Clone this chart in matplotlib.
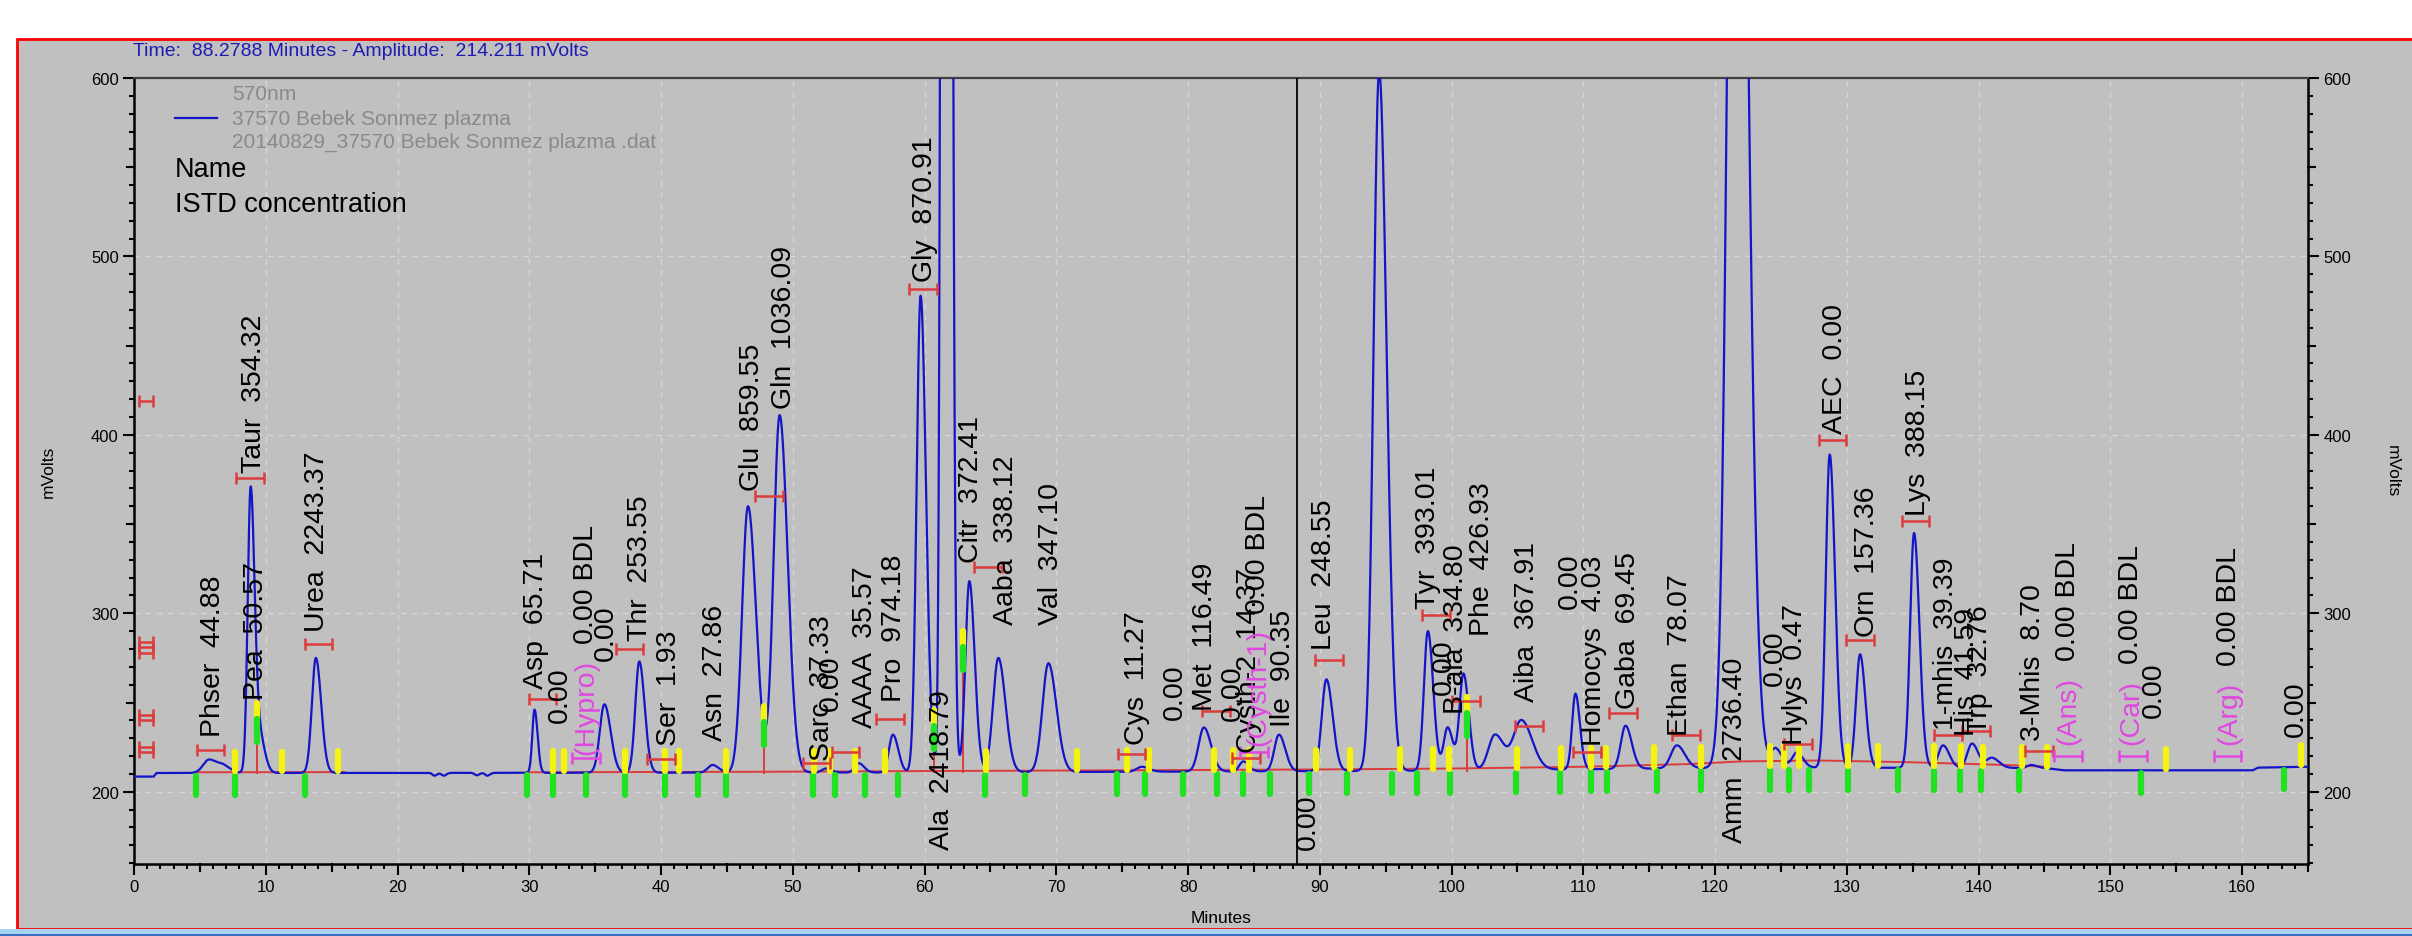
import numpy as np
import matplotlib.pyplot as plt
from matplotlib.patches import Rectangle
from matplotlib.ticker import MultipleLocator

plt.rcParams['font.family'] = ['Liberation Sans', 'DejaVu Sans']

# ---- chromatogram data (time in minutes, signal in mV) ----
base_t = [0.0, 1.5, 1.7, 30.0, 60.0, 100.0, 115.0, 125.0, 145.0, 146.5, 160.8, 161.2, 165.0]
base_v = [208.5, 208.5, 210.5, 210.6, 210.8, 211.8, 213.0, 213.5, 213.3, 212.0, 212.0, 213.5, 214.0]

peak_t = [5.7, 6.8, 8.85, 9.5, 13.8, 22.8, 23.5, 26.0, 26.8, 30.4, 35.7, 38.35, 43.9,
          46.6, 49.0, 52.5, 55.0, 57.6, 59.7, 61.6, 63.4, 65.6, 69.4, 76.5, 81.2,
          84.2, 86.9, 90.5, 94.5, 98.2, 99.7, 100.9, 103.3, 105.3, 109.4, 113.2,
          117.1, 121.6, 124.6, 126.2, 128.7, 131.0, 135.1, 137.3, 139.5, 141.0, 144.0]
peak_top = [218, 214, 369, 232, 275, 209.0, 209.0, 209.2, 209.0, 246, 249, 273, 215,
            360, 411, 213, 216, 232, 478, 3000, 318, 275, 272, 214, 236,
            217, 232, 263, 604, 290, 236, 266, 232, 240, 255, 237,
            226, 1026, 224, 222, 389, 277, 345, 226, 227, 219, 215]
peak_w = [0.45, 0.4, 0.22, 0.3, 0.3, 0.15, 0.15, 0.15, 0.15, 0.17, 0.35, 0.3, 0.35,
          0.45, 0.45, 0.3, 0.3, 0.3, 0.3, 0.22, 0.3, 0.4, 0.45, 0.4, 0.4,
          0.3, 0.35, 0.35, 0.42, 0.3, 0.3, 0.3, 0.5, 0.6, 0.25, 0.35,
          0.45, 0.58, 0.35, 0.35, 0.3, 0.3, 0.3, 0.35, 0.35, 0.4, 0.3]

# integration baseline segments and drop lines
redbase_t = [[4.7, 16.0], [29.8, 48.0, 60.0, 75.0, 90.0, 100.0, 110.0, 118.0, 122.0, 128.0, 135.0, 142.0, 145.2]]
redbase_v = [[210.9, 211.0], [210.9, 211.2, 211.6, 212.0, 212.5, 213.0, 214.0, 215.5, 217.0, 217.5, 216.5, 215.0, 214.0]]
valley_t = [9.3, 47.8, 60.7, 62.9, 101.2]
valley_v = [250, 248, 246, 290, 253]

# peak start (green) / end (yellow) flags at baseline level
green_t = [4.7, 7.7, 13.0, 29.8, 31.8, 34.3, 37.3, 40.3, 42.8, 44.9, 51.5, 53.2, 55.5, 58.0,
           64.6, 67.6, 74.6, 76.7, 79.6, 82.2, 84.2, 86.2, 89.2, 92.1, 95.5, 97.4, 99.9,
           104.9, 108.2, 110.6, 111.8, 115.6, 118.9, 124.2, 125.6, 127.1, 130.1, 133.9,
           136.6, 138.6, 140.2, 143.1, 152.3, 163.2]
yellow_t = [7.7, 11.2, 15.5, 31.8, 32.6, 37.3, 40.3, 41.4, 44.9, 51.6, 52.8, 54.7, 57.0,
            64.7, 71.6, 75.4, 77.0, 82.0, 83.4, 84.6, 89.7, 92.3, 96.1, 98.6, 99.8, 105.0,
            108.3, 110.6, 111.7, 115.4, 118.9, 124.2, 125.2, 126.4, 130.1, 132.4, 136.6,
            138.7, 140.3, 143.3, 145.2, 154.2, 164.5]

# expected retention windows
win_t = [0.9, 0.9, 0.9, 0.9, 0.9, 0.9, 0.9, 0.9, 5.8, 8.8, 14.0, 31.0, 34.3, 37.6, 40.0,
         48.2, 51.8, 54.0, 57.4, 59.9, 64.8, 75.7, 82.1, 84.4, 85.0, 90.7, 98.8, 101.1,
         105.9, 110.3, 113.0, 117.8, 126.3, 128.9, 131.0, 135.2, 137.7, 139.8, 144.6,
         146.8, 151.7, 158.9]
win_v = [419, 284, 281, 278, 243, 240, 225, 222, 223.5, 376, 283, 252, 219, 280, 218.5,
         366, 216, 222, 241, 482, 326, 221, 245, 219, 222, 274, 299, 251,
         237, 222, 244, 232, 227, 397, 285, 352, 232, 234, 223,
         220, 220, 220]
win_unknown = [False] * 12 + [True] + [False] * 11 + [True] + [False] * 14 + [True, True, True]
win_half = [0.55] * 8 + [1.05] * 34

# peak names and concentrations
lab_t = [6.0, 9.25, 9.1, 13.9, 30.5, 32.3, 34.3, 35.8, 38.4, 40.6, 44.1, 46.9, 49.3,
         52.2, 52.9, 55.5, 57.7, 60.0, 61.3, 63.5, 66.2, 69.6, 76.1, 79.0, 81.3, 83.4,
         84.6, 85.3, 87.2, 89.1, 90.3, 98.2, 99.4, 100.3, 102.3, 105.7, 109.0, 110.8,
         113.4, 117.3, 121.5, 124.5, 126.1, 129.1, 131.5, 135.4, 137.5, 139.1, 140.1,
         144.1, 146.8, 151.6, 153.3, 159.0, 164.1]
lab_v = [231, 252, 379, 290, 258, 239, 221, 274, 285, 226, 229, 369, 415,
         218, 246, 236, 251, 486, 168, 329, 294, 294, 227, 241, 246, 240,
         222, 226, 237, 168, 280, 303, 255, 244, 288, 251, 303, 226,
         247, 232, 172, 260, 227, 401, 287, 355, 235, 232, 233,
         229, 227, 227, 242, 227, 231]
lab_tag = [''] * 6 + ['(Hypro)'] + [''] * 20 + ['(Cysth-1)'] + [''] * 22 + ['(Ans)', '(Car)', '', '(Arg)', '']
lab_text = ['Phser  44.88', 'Pea  50.57', 'Taur  354.32', 'Urea  2243.37', 'Asp  65.71',
            '0.00', '0.00 BDL', '0.00', 'Thr  253.55', 'Ser  1.93', 'Asn  27.86',
            'Glu  859.55', 'Gln  1036.09', 'Sarc  37.33', '0.00', 'AAAA  35.57',
            'Pro  974.18', 'Gly  870.91', 'Ala  2418.79', 'Citr  372.41', 'Aaba  338.12',
            'Val  347.10', 'Cys  11.27', '0.00', 'Met  116.49', '0.00', 'Cysth-2  14.37',
            '0.00 BDL', 'Ile  90.35', '0.00', 'Leu  248.55', 'Tyr  393.01', '0.00',
            'B-ala  334.80', 'Phe  426.93', 'Aiba  367.91', '0.00', 'Homocys  4.03',
            'Gaba  69.45', 'Ethan  78.07', 'Amm  2736.40', '0.00', 'Hylys  0.47',
            'AEC  0.00', 'Orn  157.36', 'Lys  388.15', '1-mhis  39.39', 'His  41.59',
            'Trp  32.76', '3-Mhis  8.70', '0.00 BDL', '0.00 BDL', '0.00', '0.00 BDL', '0.00']

CURSOR_T = 88.2788
GRAY = '#c0c0c0'
TRACE = '#1414c8'
RED = '#dc3c3c'
MAGENTA = '#e048e0'
W, H, DPI = 2412, 937, 100

fig = plt.figure(figsize=(W / DPI, H / DPI), dpi=DPI, facecolor='white')

# window frame
fig.patches.append(Rectangle((17 / W, 7 / H), 1.0, (930 - 40) / H, transform=fig.transFigure,
                             facecolor=GRAY, edgecolor='#ff0000', lw=2, zorder=0))
fig.patches.append(Rectangle((0, 0), 1, 7 / H, transform=fig.transFigure,
                             facecolor='#a8d4f4', edgecolor='none', zorder=1))
fig.patches.append(Rectangle((0, 0), 1, 2 / H, transform=fig.transFigure,
                             facecolor='#3a6fc0', edgecolor='none', zorder=1))

ax = fig.add_axes([134 / W, 72 / H, 2174 / W, 786 / H])
ax.set_zorder(3)
ax.set_facecolor(GRAY)
ax.set_xlim(0, 165)
ax.set_ylim(159.5, 600)

# trace
t = np.linspace(0, 165, 12000)
signal = np.interp(t, base_t, base_v)
for pt, top, w in zip(peak_t, peak_top, peak_w):
    h = top - np.interp(pt, base_t, base_v)
    s = np.where(t < pt, w, w * 1.35)
    signal = signal + h * np.exp(-0.5 * ((t - pt) / s) ** 2)
ax.plot(t, signal, color=TRACE, lw=1.6, zorder=4)

# integration baseline and drop lines
for bt, bv in zip(redbase_t, redbase_v):
    ax.plot(bt, bv, color=RED, lw=1.4, zorder=3)
for vt, vv in zip(valley_t, valley_v):
    ax.plot([vt, vt], [np.interp(vt, base_t, base_v), vv], color=RED, lw=1.4, zorder=3)

# start/end flags
for gt in green_t:
    b = np.interp(gt, base_t, base_v)
    ax.plot([gt, gt], [b - 12.5, b - 1.5], color='#22e022', lw=4.5, solid_capstyle='round', zorder=5)
for yt in yellow_t:
    b = np.interp(yt, base_t, base_v)
    ax.plot([yt, yt], [b + 1, b + 12], color='#f4f410', lw=4.5, solid_capstyle='round', zorder=5)
for vt, vv in zip(valley_t, valley_v):
    ax.plot([vt, vt], [vv - 9, vv], color='#f4f410', lw=4.5, solid_capstyle='round', zorder=5)
    ax.plot([vt, vt], [vv - 22, vv - 9], color='#22e022', lw=4.5, solid_capstyle='round', zorder=5)

# retention windows
for wt, wv, unk, hw in zip(win_t, win_v, win_unknown, win_half):
    ax.errorbar([wt], [wv], xerr=[hw], fmt='none', ecolor=MAGENTA if unk else RED,
                elinewidth=1.8, capsize=4.5, capthick=1.8, zorder=6)

# cursor
ax.axvline(CURSOR_T, color='black', lw=1.3, zorder=7)

# peak labels
renderer = fig.canvas.get_renderer()
LABEL_SIZE = 20.5
for lt, lv, tag, txt in zip(lab_t, lab_v, lab_tag, lab_text):
    if tag:
        a = ax.text(lt, lv, tag, rotation=90, ha='center', va='bottom', color=MAGENTA,
                    fontsize=LABEL_SIZE, zorder=8)
        hpx = a.get_window_extent(renderer=renderer).height
        ax.annotate(txt, xy=(lt, lv), xytext=(0, hpx * 72 / DPI + LABEL_SIZE * 0.55),
                    textcoords='offset points', rotation=90, ha='center', va='bottom',
                    color='black', fontsize=LABEL_SIZE, zorder=8)
    else:
        ax.text(lt, lv, txt, rotation=90, ha='center', va='bottom', color='black',
                fontsize=LABEL_SIZE, zorder=8)

# axes styling
ax.xaxis.set_major_locator(MultipleLocator(10))
ax.xaxis.set_minor_locator(MultipleLocator(1))
ax.yaxis.set_major_locator(MultipleLocator(100))
ax.yaxis.set_minor_locator(MultipleLocator(10))
ax.grid(True, which='major', color='#d6d6d6', lw=1.0, ls=(0, (4, 4)), zorder=1)
ax.set_axisbelow(True)
ax.tick_params(which='both', direction='out', colors='black', labelsize=12,
               right=True, labelright=True, top=False)
ax.tick_params(which='major', length=8, width=1.5, pad=3)
ax.tick_params(which='minor', length=3.5, width=1.5)
for sp in ('left', 'bottom', 'right'):
    ax.spines[sp].set_linewidth(1.8)
    ax.spines[sp].set_color('black')
ax.spines['top'].set_color('#404040')
ax.spines['top'].set_linewidth(1.6)

# intermediate ticks every 5 min / 50 mV
for xm in range(5, 166, 10):
    ax.plot([xm, xm], [0, -0.0085], transform=ax.get_xaxis_transform(), color='black',
            lw=1.5, clip_on=False)
for ym in range(250, 600, 100):
    ax.plot([0, -0.0032], [ym, ym], transform=ax.get_yaxis_transform(), color='black',
            lw=1.5, clip_on=False)
    ax.plot([1, 1.0032], [ym, ym], transform=ax.get_yaxis_transform(), color='black',
            lw=1.5, clip_on=False)

ax.set_xlabel('Minutes', fontsize=12.5, labelpad=11)
ax.set_ylabel('mVolts', fontsize=12.5, labelpad=25)
fig.text(2392 / W, 1 - 471 / H, 'mVolts', rotation=-90, ha='center', va='center', fontsize=12.5)

# legend block
ax.plot([0.0189, 0.0382], [0.949, 0.949], transform=ax.transAxes, color=TRACE, lw=1.6)
ax.text(0.045, 0.980, '570nm', transform=ax.transAxes, va='center', color='#8a8a8a', fontsize=15)
ax.text(0.045, 0.949, '37570 Bebek Sonmez plazma', transform=ax.transAxes, va='center',
        color='#8a8a8a', fontsize=15)
ax.text(0.045, 0.920, '20140829_37570 Bebek Sonmez plazma .dat', transform=ax.transAxes,
        va='center', color='#8a8a8a', fontsize=15)
ax.text(0.0189, 0.884, 'Name', transform=ax.transAxes, va='center', color='black', fontsize=19.5)
ax.text(0.0189, 0.840, 'ISTD concentration', transform=ax.transAxes, va='center',
        color='black', fontsize=19.5)

fig.text(133 / W, 1 - 52 / H, 'Time:  88.2788 Minutes - Amplitude:  214.211 mVolts',
         va='center', ha='left', color='#1c1cb4', fontsize=14)

fig.savefig('out.png', dpi=DPI, facecolor='white')
